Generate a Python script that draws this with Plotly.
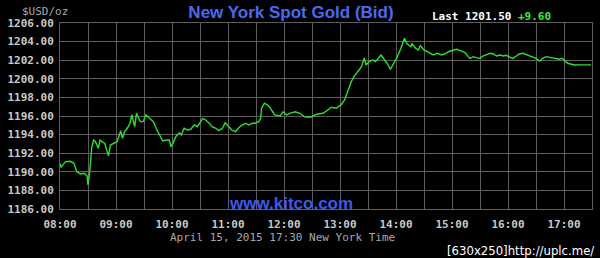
import plotly.graph_objects as go

DATE = "2015-04-15"
times = ["08:00","08:01","08:06","08:11","08:15","08:18","08:22","08:26","08:29","08:30",
         "08:32","08:33","08:34","08:36","08:38","08:41","08:43","08:45","08:48","08:51",
         "08:52","08:54","08:57","09:01","09:03","09:05","09:07","09:09","09:12","09:15",
         "09:17","09:19","09:20","09:22","09:24","09:26","09:29","09:32","09:36","09:40",
         "09:43","09:47","09:50","09:54","09:57","09:59","10:01","10:04","10:08","10:10",
         "10:13","10:17","10:20","10:24","10:27","10:33","10:36","10:40","10:43","10:47",
         "10:50","10:54","10:57","11:01","11:04","11:08","11:11","11:15","11:19","11:22",
         "11:26","11:29","11:33","11:35","11:36","11:39","11:42","11:45","11:50","11:56",
         "11:59","12:03","12:06","12:12","12:17","12:22","12:28","12:31","12:36","12:42",
         "12:47","12:51","12:56","13:01","13:05","13:08","13:12","13:15","13:19","13:23",
         "13:26","13:28","13:31","13:35","13:38","13:44","13:47","13:51","13:54","13:58",
         "14:01","14:05","14:09","14:12","14:16","14:17","14:21","14:24","14:26","14:30",
         "14:33","14:37","14:40","14:44","14:49","14:55","14:56","15:02","15:05","15:09",
         "15:14","15:19","15:23","15:26","15:30","15:33","15:37","15:41","15:44","15:48",
         "15:51","15:55","15:58","16:02","16:05","16:09","16:12","16:16","16:20","16:23",
         "16:27","16:30","16:34","16:37","16:41","16:44","16:48","16:51","16:55","16:58",
         "17:02","17:04","17:07","17:11","17:18","17:29"]
prices = [1190.91,1190.48,1191.09,1191.13,1190.91,1190.01,1189.76,1189.84,1189.55,1188.58,
          1190.19,1192.16,1192.63,1193.42,1193.24,1192.53,1193.42,1193.24,1193.06,1191.99,
          1191.73,1192.88,1193.06,1193.24,1193.77,1194.42,1193.60,1194.31,1194.68,1195.22,
          1196.11,1195.22,1194.85,1196.29,1195.92,1195.39,1195.39,1196.11,1195.75,1195.39,
          1194.68,1193.96,1193.31,1193.42,1193.42,1192.70,1193.06,1193.77,1194.20,1193.96,
          1194.68,1194.49,1194.57,1195.03,1194.85,1195.75,1195.57,1195.22,1194.85,1194.68,
          1194.42,1194.68,1195.28,1194.85,1194.49,1194.31,1194.68,1195.03,1195.22,1195.03,
          1195.22,1195.22,1195.39,1195.75,1196.83,1197.37,1197.19,1196.91,1196.11,1196.00,
          1196.46,1196.11,1196.29,1196.46,1196.29,1195.92,1195.86,1196.00,1196.22,1196.29,
          1196.65,1196.94,1196.83,1197.19,1197.73,1198.61,1199.69,1200.23,1200.76,1201.30,
          1202.24,1201.48,1201.84,1202.02,1201.84,1202.56,1202.13,1201.59,1201.02,1201.67,
          1202.29,1203.20,1204.35,1203.74,1203.45,1203.80,1203.28,1203.10,1203.58,1203.10,
          1202.91,1202.74,1202.56,1202.74,1202.56,1202.81,1202.91,1203.10,1203.17,1203.02,
          1202.81,1202.20,1202.38,1202.27,1202.20,1202.45,1202.56,1202.74,1202.67,1202.45,
          1202.56,1202.45,1202.52,1202.38,1202.20,1202.45,1202.67,1202.74,1202.56,1202.45,
          1202.31,1202.20,1201.91,1202.20,1202.38,1202.31,1202.20,1202.20,1202.10,1202.20,
          1201.84,1201.67,1201.59,1201.48,1201.50,1201.50]

hour_ticks = ["08:00","09:00","10:00","11:00","12:00","13:00","14:00","15:00","16:00","17:00"]
y_ticks = [1186,1188,1190,1192,1194,1196,1198,1200,1202,1204,1206]
title_text = "New York Spot Gold (Bid)"
last_price = "1201.50"
change = "+9.60"
subtitle = "April 15, 2015 17:30 New York Time"

x = [f"{DATE} {t}" for t in times]

GRID = "#5e5e5e"
MONO = "DejaVu Sans Mono, Liberation Mono, monospace"

fig = go.Figure()
fig.add_trace(go.Scatter(x=x, y=prices, mode="lines",
                         line=dict(color="#2ee02e", width=1.4), hoverinfo="skip"))

fig.update_layout(
    width=600, height=258,
    margin=dict(l=58, r=7, t=23, b=49),
    paper_bgcolor="black", plot_bgcolor="black",
    showlegend=False,
    title=dict(text=f"<b>{title_text}</b>", x=291/600, y=1-12/258,
               xanchor="center", yanchor="middle",
               font=dict(family="Liberation Sans, Arial, sans-serif", size=17, color="#4a6af0")),
)
fig.update_xaxes(
    type="date",
    range=[f"{DATE} 08:00", f"{DATE} 17:30"],
    tickvals=[f"{DATE} {h}" for h in hour_ticks],
    ticktext=hour_ticks,
    showgrid=True, gridcolor=GRID, gridwidth=1,
    minor=dict(dtick=1800000, showgrid=True, gridcolor=GRID, gridwidth=1),
    showline=True, linecolor=GRID, mirror=True,
    zeroline=False, ticks="", ticklabelstandoff=5,
    tickfont=dict(family=MONO, size=11, color="#c8c8c8", weight="bold"),
)
fig.update_yaxes(
    range=[1186, 1206],
    tickvals=y_ticks,
    tickformat=".2f",
    showgrid=True, gridcolor=GRID, gridwidth=1,
    showline=True, linecolor=GRID, mirror=True,
    zeroline=False, ticks="", ticklabelstandoff=3,
    tickfont=dict(family=MONO, size=11, color="#c8c8c8", weight="bold"),
)

def px(xp):
    return (xp - 58) / 535

def py(yp):
    return (209 - yp) / 186

anns = [
    dict(text="$USD/oz", x=px(18), y=py(11), xanchor="left",
         font=dict(family=MONO, size=11, color="#a8a8a8")),
    dict(text=f"Last {last_price}", x=px(430), y=py(16), xanchor="left",
         font=dict(family=MONO, size=11, color="#ffffff", weight="bold")),
    dict(text=change, x=px(517), y=py(16), xanchor="left",
         font=dict(family=MONO, size=11, color="#33ee33", weight="bold")),
    dict(text="<b>www.kitco.com</b>", x=px(290), y=py(203), xanchor="center",
         font=dict(family="Liberation Sans, Arial, sans-serif", size=17, color="#3a5ae8")),
    dict(text=subtitle, x=px(282), y=py(237), xanchor="center",
         font=dict(family=MONO, size=11, color="#a8a8a8")),
    dict(text="[630x250]http://uplc.me/", x=px(597), y=py(250.5), xanchor="right",
         font=dict(family="Liberation Sans Narrow, DejaVu Sans Condensed, sans-serif", size=13, color="#ffffff")),
]
for a in anns:
    a.update(xref="paper", yref="paper", yanchor="middle", showarrow=False)
    fig.add_annotation(**a)

fig.write_html("out.html")
